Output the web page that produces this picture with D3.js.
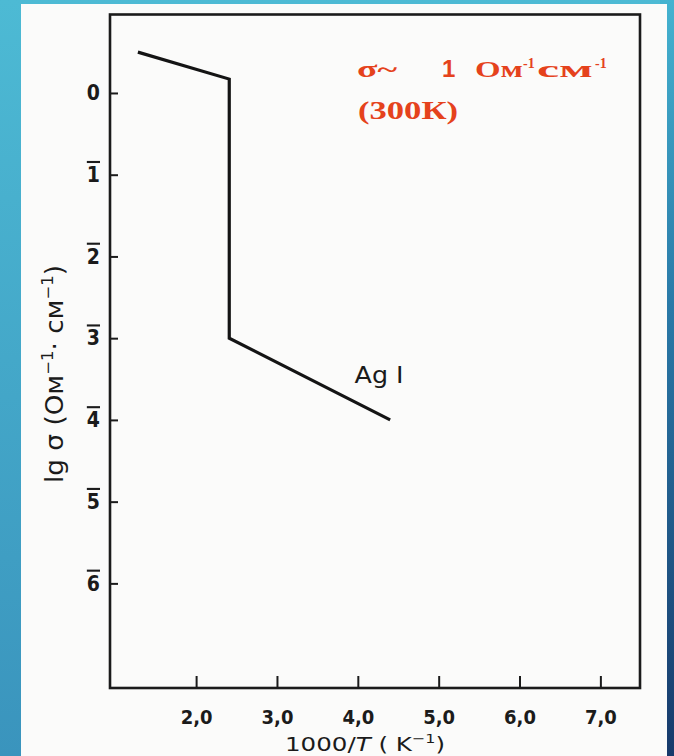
<!DOCTYPE html>
<html>
<head>
<meta charset="utf-8">
<script src="https://cdn.jsdelivr.net/npm/d3@7"></script>
<style>
  body { margin: 0; padding: 0; }
  svg { display: block; }
  .axis text { font-family: "DejaVu Sans Condensed", "Liberation Sans Narrow", "DejaVu Sans", sans-serif; font-stretch: condensed; fill: #1b1b1b; }
</style>
</head>
<body>
<script>
// AgI conductivity curve
const inv_temp = [1.28, 2.41, 2.41, 4.40];
const lg_sigma = [0.50, 0.17, -3.00, -4.00];
const x_ticks = [2, 3, 4, 5, 6, 7];
const y_ticks = [0, -1, -2, -3, -4, -5, -6];
const y_tick_labels = ["0", "1", "2", "3", "4", "5", "6"];
const curve_label = "Ag I";
const note_lines = ["σ~", "1", "Ом", "см", "(300К)"];

class ConductivityChart {
    constructor(width = 674, height = 756) {
        this.total_width = width;
        this.total_height = height;
        this.frame = { left: 110, right: 640, top: 14.5, bottom: 688 };
        this.svg_container = null;
        this.inner_graph = null;
        this.x = d3.scaleLinear().domain([0.935, 7.49]).range([this.frame.left, this.frame.right]);
        this.y = d3.scaleLinear().domain([0.96, -7.28]).range([this.frame.top, this.frame.bottom]);
    }

    construct_svg(self = this) {
        self.svg_container = d3.select("body").append("svg")
            .attr("width", self.total_width)
            .attr("height", self.total_height);
        var defs = self.svg_container.append("defs");
        var left = defs.append("linearGradient").attr("id", "leftbg")
            .attr("x1", 0).attr("y1", 0).attr("x2", 0).attr("y2", 1);
        left.append("stop").attr("offset", "0%").attr("stop-color", "#4dbad4");
        left.append("stop").attr("offset", "100%").attr("stop-color", "#3a94bd");
        var right = defs.append("linearGradient").attr("id", "rightbg")
            .attr("x1", 0).attr("y1", 0).attr("x2", 0).attr("y2", 1);
        right.append("stop").attr("offset", "0%").attr("stop-color", "#45b3d0");
        right.append("stop").attr("offset", "40%").attr("stop-color", "#2a7aa8");
        right.append("stop").attr("offset", "100%").attr("stop-color", "#173a6b");

        self.svg_container.append("rect")
            .attr("width", self.total_width).attr("height", self.total_height)
            .attr("fill", "url(#leftbg)");
        self.svg_container.append("rect")
            .attr("x", 660).attr("width", 14).attr("height", self.total_height)
            .attr("fill", "url(#rightbg)");
        // the scanned page
        self.svg_container.append("rect")
            .attr("x", 21).attr("y", 4)
            .attr("width", 646).attr("height", self.total_height - 4)
            .attr("fill", "#fbfbfa");
        self.inner_graph = self.svg_container.append("g").attr("class", "inner_graph");
    }

    construct_axes(self = this) {
        var f = self.frame;
        self.inner_graph.append("rect")
            .attr("x", f.left).attr("y", f.top)
            .attr("width", f.right - f.left).attr("height", f.bottom - f.top)
            .attr("fill", "none").attr("stroke", "#1b1b1b").attr("stroke-width", 2.6);

        var x_axis = self.inner_graph.append("g")
            .attr("class", "axis")
            .attr("transform", "translate(0," + f.bottom + ")")
            .call(d3.axisBottom(self.x).tickValues(x_ticks).tickSize(-12).tickPadding(22)
                .tickFormat(d => d3.format(".1f")(d).replace(".", ",")));
        x_axis.select(".domain").remove();
        x_axis.selectAll("line").attr("stroke", "#1b1b1b").attr("stroke-width", 2);
        x_axis.selectAll("text").attr("font-size", 20).attr("font-weight", 600);

        var y_axis = self.inner_graph.append("g")
            .attr("class", "axis")
            .attr("transform", "translate(" + f.left + ",0)")
            .call(d3.axisLeft(self.y).tickValues(y_ticks).tickSize(-8).tickPadding(10)
                .tickFormat((d, i) => y_tick_labels[i]));
        y_axis.select(".domain").remove();
        y_axis.selectAll("line").attr("stroke", "#1b1b1b").attr("stroke-width", 2);
        y_axis.selectAll("text")
            .attr("font-size", 21)
            .attr("font-weight", "bold")
            .style("text-decoration", (d, i) => i > 0 ? "overline" : "none");

        // axis titles
        var xt = self.inner_graph.append("text")
            .attr("x", 285).attr("y", 751)
            .attr("textLength", 160).attr("lengthAdjust", "spacingAndGlyphs")
            .attr("font-family", "DejaVu Sans Condensed, DejaVu Sans, sans-serif")
            .attr("font-size", 20).attr("fill", "#1b1b1b");
        xt.append("tspan").text("1000/");
        xt.append("tspan").attr("font-style", "italic").text("T");
        xt.append("tspan").text(" ( K");
        xt.append("tspan").attr("dy", -8).attr("font-size", 13).text("−1");
        xt.append("tspan").attr("dy", 8).text(")");

        var yt = self.inner_graph.append("text")
            .attr("transform", "translate(63,483) rotate(-90)")
            .attr("textLength", 218).attr("lengthAdjust", "spacingAndGlyphs")
            .attr("font-family", "DejaVu Sans Condensed, DejaVu Sans, sans-serif")
            .attr("font-size", 24).attr("fill", "#1b1b1b");
        yt.append("tspan").text("lg σ (Ом");
        yt.append("tspan").attr("dy", -10).attr("font-size", 15).text("−1");
        yt.append("tspan").attr("dy", 10).text("· см");
        yt.append("tspan").attr("dy", -10).attr("font-size", 15).text("−1");
        yt.append("tspan").attr("dy", 10).text(")");
    }

    construct_graph(self = this) {
        var pts = inv_temp.map((v, i) => [v, lg_sigma[i]]);
        var line = d3.line().x(d => self.x(d[0])).y(d => self.y(d[1]));
        self.inner_graph.append("path")
            .datum(pts)
            .attr("d", line)
            .attr("fill", "none")
            .attr("stroke", "#141414")
            .attr("stroke-width", 3.2)
            .attr("stroke-linejoin", "miter");

        self.inner_graph.append("text")
            .attr("x", self.x(3.96)).attr("y", self.y(-3.55))
            .attr("textLength", 49).attr("lengthAdjust", "spacingAndGlyphs")
            .attr("font-family", "DejaVu Sans Condensed, DejaVu Sans, sans-serif")
            .attr("font-size", 23).attr("fill", "#1b1b1b")
            .text(curve_label);
    }

    construct_note(self = this) {
        var g = self.inner_graph.append("g")
            .attr("font-family", "Liberation Serif, Times New Roman, serif")
            .attr("font-weight", "bold")
            .attr("fill", "#e5421c");
        var t1 = g.append("text").attr("y", 77).attr("font-size", 24);
        t1.append("tspan").attr("x", 357).attr("textLength", 40).attr("lengthAdjust", "spacingAndGlyphs").text(note_lines[0]);
        t1.append("tspan").attr("x", 442).attr("font-family", "Liberation Sans, sans-serif").text(note_lines[1]);
        t1.append("tspan").attr("x", 475).attr("textLength", 48).attr("lengthAdjust", "spacingAndGlyphs").text(note_lines[2]);
        t1.append("tspan").attr("x", 523).attr("dy", -9).attr("font-size", 14).text("-1");
        t1.append("tspan").attr("x", 537).attr("dy", 9).attr("textLength", 56).attr("lengthAdjust", "spacingAndGlyphs").text(note_lines[3]);
        t1.append("tspan").attr("x", 595).attr("dy", -9).attr("font-size", 14).text("-1");
        g.append("text").attr("x", 358).attr("y", 119)
            .attr("font-size", 25)
            .attr("textLength", 100).attr("lengthAdjust", "spacingAndGlyphs")
            .text(note_lines[4]);
    }
}

var chart = new ConductivityChart();
chart.construct_svg();
chart.construct_axes();
chart.construct_graph();
chart.construct_note();
</script>
</body>
</html>
